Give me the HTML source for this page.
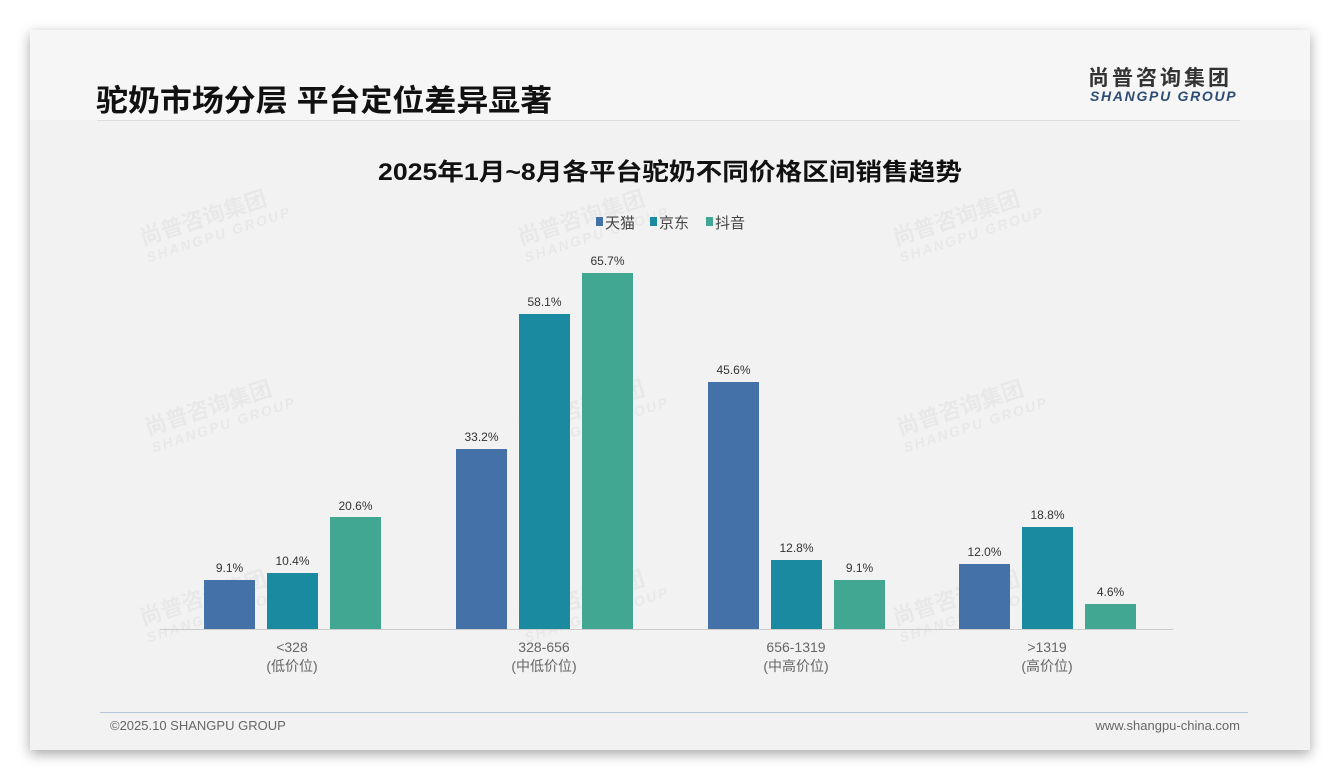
<!DOCTYPE html>
<html><head><meta charset="utf-8"><style>
body{margin:0;width:1340px;height:780px;background:#fff;position:relative;overflow:hidden;font-family:"Liberation Sans","Noto Sans CJK SC",sans-serif}
.card{position:absolute;left:30px;top:30px;width:1280px;height:720px;background:#f2f2f2;box-shadow:0 4px 12px rgba(0,0,0,.35)}
.hdr{position:absolute;left:30px;top:30px;width:1280px;height:90px;background:#f6f6f6}
.t{position:absolute;white-space:nowrap}
.wm{position:absolute;color:rgba(0,0,0,.04);font-weight:bold;font-size:22px;transform:rotate(-18deg);line-height:20px}
.wm i{font-size:14px;letter-spacing:2px;display:block}
</style></head><body>
<div class="card"></div><div class="hdr"></div>
<div class="t" style="left:96px;top:76px;font-size:30px;font-weight:bold;color:#111;transform:scaleX(1.065);transform-origin:left">驼奶市场分层 平台定位差异显著</div>
<div class="t" style="left:1088px;top:62px;font-size:21px;font-weight:bold;color:#333;letter-spacing:3px">尚普咨询集团</div>
<div class="t" style="left:1090px;top:88px;font-size:14px;font-weight:bold;font-style:italic;color:#2d4d73;letter-spacing:1.7px">SHANGPU GROUP</div>
<div style="position:absolute;left:97px;top:120px;width:1143px;height:1px;background:#ddd"></div>
<div class="t" style="left:0;width:1340px;text-align:center;top:152px;font-size:24px;font-weight:bold;color:#111;transform:scaleX(1.11);transform-origin:670px 0">2025年1月~8月各平台驼奶不同价格区间销售趋势</div>
<div class="wm" style="left:140px;top:205px">尚普咨询集团<i>SHANGPU GROUP</i></div>
<div class="wm" style="left:518px;top:205px">尚普咨询集团<i>SHANGPU GROUP</i></div>
<div class="wm" style="left:893px;top:205px">尚普咨询集团<i>SHANGPU GROUP</i></div>
<div class="wm" style="left:145px;top:395px">尚普咨询集团<i>SHANGPU GROUP</i></div>
<div class="wm" style="left:518px;top:395px">尚普咨询集团<i>SHANGPU GROUP</i></div>
<div class="wm" style="left:897px;top:395px">尚普咨询集团<i>SHANGPU GROUP</i></div>
<div class="wm" style="left:140px;top:585px">尚普咨询集团<i>SHANGPU GROUP</i></div>
<div class="wm" style="left:518px;top:585px">尚普咨询集团<i>SHANGPU GROUP</i></div>
<div class="wm" style="left:893px;top:585px">尚普咨询集团<i>SHANGPU GROUP</i></div>
<svg width="1340" height="780" style="position:absolute;left:0;top:0" font-family="Liberation Sans,Noto Sans CJK SC,sans-serif">
<g font-size="15" fill="#444">
<rect x="596" y="217" width="7" height="9" fill="#4472a8"/><text x="605" y="228">天猫</text>
<rect x="650" y="217" width="7" height="9" fill="#1a8aa0"/><text x="659" y="228">京东</text>
<rect x="706" y="217" width="7" height="9" fill="#41a792"/><text x="715" y="228">抖音</text>
</g>
<line x1="160" y1="629.5" x2="1173" y2="629.5" stroke="#ccc"/>
<g font-size="12" fill="#333" text-anchor="middle">
<rect x="204" y="580" width="51" height="49" fill="#4472a8"/><text x="229.5" y="572">9.1%</text>
<rect x="267" y="573" width="51" height="56" fill="#1a8aa0"/><text x="292.5" y="565">10.4%</text>
<rect x="330" y="517" width="51" height="112" fill="#41a792"/><text x="355.5" y="510">20.6%</text>
<rect x="456" y="449" width="51" height="180" fill="#4472a8"/><text x="481.5" y="441">33.2%</text>
<rect x="519" y="314" width="51" height="315" fill="#1a8aa0"/><text x="544.5" y="306">58.1%</text>
<rect x="582" y="273" width="51" height="356" fill="#41a792"/><text x="607.5" y="265">65.7%</text>
<rect x="708" y="382" width="51" height="247" fill="#4472a8"/><text x="733.5" y="374">45.6%</text>
<rect x="771" y="560" width="51" height="69" fill="#1a8aa0"/><text x="796.5" y="552">12.8%</text>
<rect x="834" y="580" width="51" height="49" fill="#41a792"/><text x="859.5" y="572">9.1%</text>
<rect x="959" y="564" width="51" height="65" fill="#4472a8"/><text x="984.5" y="556">12.0%</text>
<rect x="1022" y="527" width="51" height="102" fill="#1a8aa0"/><text x="1047.5" y="519">18.8%</text>
<rect x="1085" y="604" width="51" height="25" fill="#41a792"/><text x="1110.5" y="596">4.6%</text>
</g>
<g font-size="14" fill="#666" text-anchor="middle">
<text x="292" y="652">&lt;328</text><text x="292" y="671">(低价位)</text>
<text x="544" y="652">328-656</text><text x="544" y="671">(中低价位)</text>
<text x="796" y="652">656-1319</text><text x="796" y="671">(中高价位)</text>
<text x="1047" y="652">&gt;1319</text><text x="1047" y="671">(高价位)</text>
</g>
<line x1="100" y1="712.5" x2="1248" y2="712.5" stroke="#b5c5d8"/>
<text x="110" y="730" font-size="13" fill="#666">©2025.10 SHANGPU GROUP</text>
<text x="1240" y="730" font-size="13" fill="#666" text-anchor="end">www.shangpu-china.com</text>
</svg>
</body></html>
